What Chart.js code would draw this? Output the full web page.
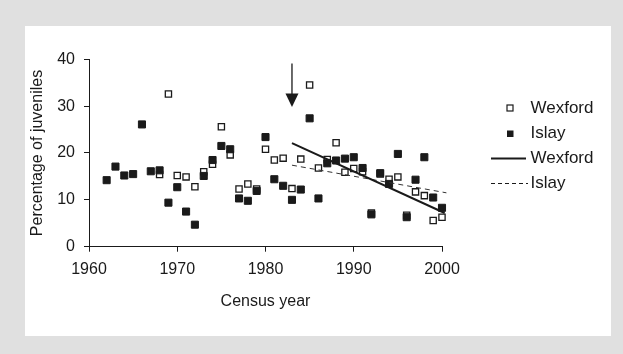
<!DOCTYPE html>
<html>
<head>
<meta charset="utf-8">
<script src="https://cdn.jsdelivr.net/npm/chart.js@4"></script>
<style>
  html, body { margin: 0; padding: 0; background: #e0e0e0; }
  body { width: 623px; height: 354px; position: relative; overflow: hidden; }
  .panel { position: absolute; left: 25px; top: 26px; width: 586px; height: 310px; background: #fff; }
</style>
</head>
<body>
<div class="panel"><canvas id="juvChart"></canvas></div>
<script>
// ── Data ─────────────────────────────────────────────────────
const wexfordYears = [1968, 1969, 1970, 1971, 1972, 1973, 1974, 1975, 1976, 1977, 1978, 1979, 1980,
                      1981, 1982, 1983, 1984, 1985, 1986, 1987, 1988, 1989, 1990, 1991, 1992, 1993,
                      1994, 1995, 1996, 1997, 1998, 1999, 2000];
const wexfordPct   = [15.4, 32.6, 15.2, 14.9, 12.8, 16.0, 17.6, 25.6, 19.6, 12.3, 13.4, 12.3, 20.8,
                      18.5, 18.9, 12.4, 18.7, 34.5, 16.8, 18.6, 22.2, 15.9, 16.7, 16.0, 7.2, 15.5,
                      14.4, 14.9, 6.7, 11.7, 10.9, 5.6, 6.3];

const islayYears = [1962, 1963, 1964, 1965, 1966, 1967, 1968, 1969, 1970, 1971, 1972, 1973, 1974,
                    1975, 1976, 1977, 1978, 1979, 1980, 1981, 1982, 1983, 1984, 1985, 1986, 1987,
                    1988, 1989, 1990, 1991, 1992, 1993, 1994, 1995, 1996, 1997, 1998, 1999, 2000];
const islayPct   = [14.2, 17.1, 15.2, 15.5, 26.1, 16.1, 16.3, 9.4, 12.7, 7.5, 4.7, 15.1, 18.5,
                    21.5, 20.8, 10.3, 9.8, 11.9, 23.4, 14.4, 13.0, 10.0, 12.2, 27.4, 10.3, 17.8,
                    18.4, 18.8, 19.1, 16.8, 6.9, 15.7, 13.4, 19.8, 6.3, 14.3, 19.1, 10.5, 8.3];

// fitted trends after 1983 (end points)
const trendYears     = [1983, 2000.3];
const wexfordTrend   = [22.1, 7.2];
const islayTrendYrs  = [1983, 2000.5];
const islayTrend     = [17.4, 11.5];

// arrow marking 1983
const arrowYear = 1983;
const arrowFrom = 39.1;
const arrowHeadBase = 32.7;
const arrowTo = 29.8;

const xTicks = [1960, 1970, 1980, 1990, 2000];
const yTicks = [0, 10, 20, 30, 40];

const FONT = "'Liberation Sans', Arial, Helvetica, sans-serif";
const INK = '#1a1a1a';

function pairs(xs, ys) { return xs.map((v, i) => ({ x: v, y: ys[i] })); }

// ── Arrow plugin ─────────────────────────────────────────────
const arrowPlugin = {
    id: 'arrow',
    afterDatasetsDraw(chart) {
        const { ctx, scales: { x, y } } = chart;
        const px   = x.getPixelForValue(arrowYear);
        const top  = y.getPixelForValue(arrowFrom);
        const base = y.getPixelForValue(arrowHeadBase);
        const tip  = y.getPixelForValue(arrowTo);
        ctx.save();
        ctx.strokeStyle = INK;
        ctx.fillStyle = INK;
        ctx.lineWidth = 1.3;
        ctx.beginPath();
        ctx.moveTo(px, top);
        ctx.lineTo(px, base + 1);
        ctx.stroke();
        ctx.beginPath();
        ctx.moveTo(px - 6.5, base);
        ctx.lineTo(px + 6.5, base);
        ctx.lineTo(px, tip);
        ctx.closePath();
        ctx.fill();
        ctx.restore();
    }
};

// ── Legend plugin (right side) ───────────────────────────────
const legendPlugin = {
    id: 'sideLegend',
    afterDraw(chart) {
        const { ctx } = chart;
        const rows = [82, 107.5, 132, 157];
        const textX = 505.5;
        ctx.save();
        ctx.font = '17px ' + FONT;
        ctx.fillStyle = INK;
        ctx.textBaseline = 'middle';
        ctx.textAlign = 'left';

        // Wexford open square
        ctx.strokeStyle = INK;
        ctx.lineWidth = 1.2;
        ctx.strokeRect(482, rows[0] - 3, 6, 6);
        ctx.fillText(chart.data.datasets[1].label, textX, rows[0]);

        // Islay filled square
        ctx.fillRect(482, rows[1] - 3, 6.5, 6.5);
        ctx.fillText(chart.data.datasets[0].label, textX, rows[1]);

        // Wexford trend
        ctx.lineWidth = 2;
        ctx.beginPath();
        ctx.moveTo(466, rows[2] + 0.5);
        ctx.lineTo(501, rows[2] + 0.5);
        ctx.stroke();
        ctx.fillText(chart.data.datasets[2].label, textX, rows[2]);

        // Islay trend
        ctx.lineWidth = 1;
        ctx.setLineDash([4, 3]);
        ctx.beginPath();
        ctx.moveTo(466, rows[3] + 0.5);
        ctx.lineTo(503, rows[3] + 0.5);
        ctx.stroke();
        ctx.setLineDash([]);
        ctx.fillText(chart.data.datasets[3].label, textX, rows[3]);
        ctx.restore();
    }
};

// ── Chart ────────────────────────────────────────────────────
const ctx = document.getElementById('juvChart').getContext('2d');
new Chart(ctx, {
    type: 'scatter',
    data: {
        datasets: [
            {
                label: 'Islay',
                data: pairs(islayYears, islayPct),
                pointStyle: 'rect',
                pointRadius: 5,
                borderWidth: 1,
                backgroundColor: INK,
                borderColor: INK,
                clip: false,
                order: 1
            },
            {
                label: 'Wexford',
                data: pairs(wexfordYears, wexfordPct),
                pointStyle: 'rect',
                pointRadius: 4.4,
                borderWidth: 1.3,
                backgroundColor: '#fff',
                borderColor: INK,
                clip: false,
                order: 2
            },
            {
                type: 'line',
                label: 'Wexford',
                data: pairs(trendYears, wexfordTrend),
                borderColor: INK,
                borderWidth: 2,
                pointRadius: 0,
                showLine: true,
                clip: false,
                order: 0
            },
            {
                type: 'line',
                label: 'Islay',
                data: pairs(islayTrendYrs, islayTrend),
                borderColor: '#333',
                borderWidth: 1,
                borderDash: [5, 4],
                pointRadius: 0,
                showLine: true,
                clip: false,
                order: 0
            }
        ]
    },
    options: {
        responsive: true,
        maintainAspectRatio: false,
        animation: false,
        layout: { padding: { top: 33.3, right: 169, bottom: 0, left: 0 } },
        plugins: { legend: { display: false }, tooltip: { enabled: false } },
        scales: {
            x: {
                type: 'linear',
                min: 1960, max: 2000,
                afterBuildTicks: s => { s.ticks = xTicks.map(v => ({ value: v })); },
                afterFit: s => { s.height = 89.3; },
                ticks: { color: INK, font: { family: FONT, size: 16 }, padding: 8, maxRotation: 0,
                         callback: v => String(v) },
                grid: { display: true, drawOnChartArea: false, drawTicks: true, tickLength: 5, color: INK },
                border: { display: true, color: INK, width: 1 },
                title: { display: true, text: 'Census year', color: INK,
                         font: { family: FONT, size: 16 }, padding: { top: 0, bottom: 25 } }
            },
            y: {
                min: 0, max: 40,
                afterBuildTicks: s => { s.ticks = yTicks.map(v => ({ value: v })); },
                afterFit: s => { s.width = 64; },
                ticks: { color: INK, font: { family: FONT, size: 16 }, padding: 9,
                         callback: v => String(v) },
                grid: { display: true, drawOnChartArea: false, drawTicks: true, tickLength: 5, color: INK },
                border: { display: true, color: INK, width: 1 },
                title: { display: true, text: 'Percentage of juveniles', color: INK,
                         font: { family: FONT, size: 16 }, padding: { top: 3, bottom: 0 } }
            }
        }
    },
    plugins: [arrowPlugin, legendPlugin]
});
</script>
</body>
</html>
